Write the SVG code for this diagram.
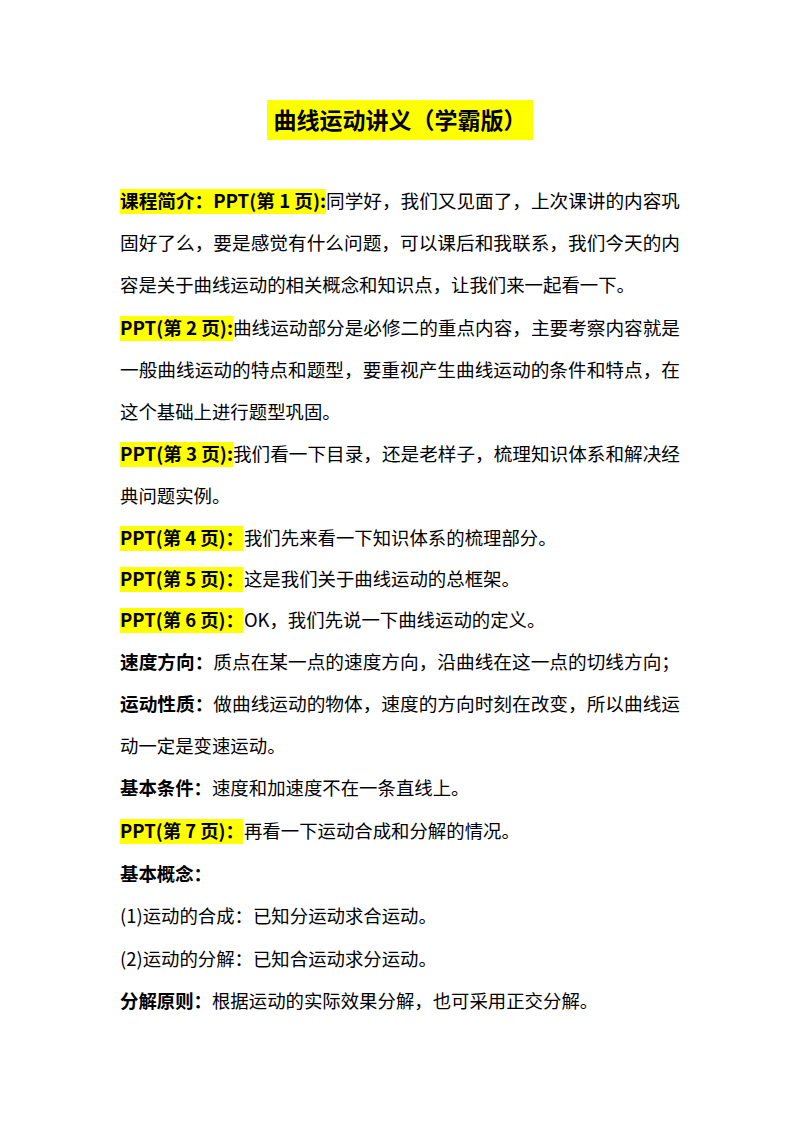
<svg xmlns="http://www.w3.org/2000/svg" width="800" height="1132" viewBox="0 0 800 1132">
<style>
text{font-family:"Noto Sans CJK SC","Noto Sans",sans-serif;font-size:18.4px;fill:#000}
.b{font-weight:bold}
.hl{fill:#ffff00}
</style>
<rect width="800" height="1132" fill="#fff"/>
<rect class="hl" x="267" y="100" width="266" height="40"/>
<text x="400" y="129" text-anchor="middle" class="b" style="font-size:23px">曲线运动讲义（学霸版）</text>
<rect class="hl" x="120" y="189" width="206" height="25"/>
<rect class="hl" x="120" y="316" width="113" height="25"/>
<rect class="hl" x="120" y="442" width="113" height="25"/>
<rect class="hl" x="120" y="526" width="123" height="25"/>
<rect class="hl" x="120" y="567" width="123" height="25"/>
<rect class="hl" x="120" y="608" width="123" height="25"/>
<rect class="hl" x="120" y="819" width="123" height="25"/>
<text x="120" y="208" textLength="560" lengthAdjust="spacingAndGlyphs"><tspan class="b">课程简介：PPT(第 1 页):</tspan>同学好，我们又见面了，上次课讲的内容巩</text>
<text x="120" y="250" textLength="560" lengthAdjust="spacingAndGlyphs">固好了么，要是感觉有什么问题，可以课后和我联系，我们今天的内</text>
<text x="120" y="292">容是关于曲线运动的相关概念和知识点，让我们来一起看一下。</text>
<text x="120" y="335" textLength="560" lengthAdjust="spacingAndGlyphs"><tspan class="b">PPT(第 2 页):</tspan>曲线运动部分是必修二的重点内容，主要考察内容就是</text>
<text x="120" y="377" textLength="560" lengthAdjust="spacingAndGlyphs">一般曲线运动的特点和题型，要重视产生曲线运动的条件和特点，在</text>
<text x="120" y="419">这个基础上进行题型巩固。</text>
<text x="120" y="461" textLength="560" lengthAdjust="spacingAndGlyphs"><tspan class="b">PPT(第 3 页):</tspan>我们看一下目录，还是老样子，梳理知识体系和解决经</text>
<text x="120" y="503">典问题实例。</text>
<text x="120" y="545"><tspan class="b">PPT(第 4 页)：</tspan>我们先来看一下知识体系的梳理部分。</text>
<text x="120" y="586"><tspan class="b">PPT(第 5 页)：</tspan>这是我们关于曲线运动的总框架。</text>
<text x="120" y="627"><tspan class="b">PPT(第 6 页)：</tspan>OK，我们先说一下曲线运动的定义。</text>
<text x="120" y="669" textLength="560" lengthAdjust="spacingAndGlyphs"><tspan class="b">速度方向：</tspan>质点在某一点的速度方向，沿曲线在这一点的切线方向；</text>
<text x="120" y="711" textLength="560" lengthAdjust="spacingAndGlyphs"><tspan class="b">运动性质：</tspan>做曲线运动的物体，速度的方向时刻在改变，所以曲线运</text>
<text x="120" y="753">动一定是变速运动。</text>
<text x="120" y="795"><tspan class="b">基本条件：</tspan>速度和加速度不在一条直线上。</text>
<text x="120" y="838"><tspan class="b">PPT(第 7 页)：</tspan>再看一下运动合成和分解的情况。</text>
<text x="120" y="881" class="b">基本概念：</text>
<text x="120" y="923">(1)运动的合成：已知分运动求合运动。</text>
<text x="120" y="966">(2)运动的分解：已知合运动求分运动。</text>
<text x="120" y="1008"><tspan class="b">分解原则：</tspan>根据运动的实际效果分解，也可采用正交分解。</text>
</svg>
